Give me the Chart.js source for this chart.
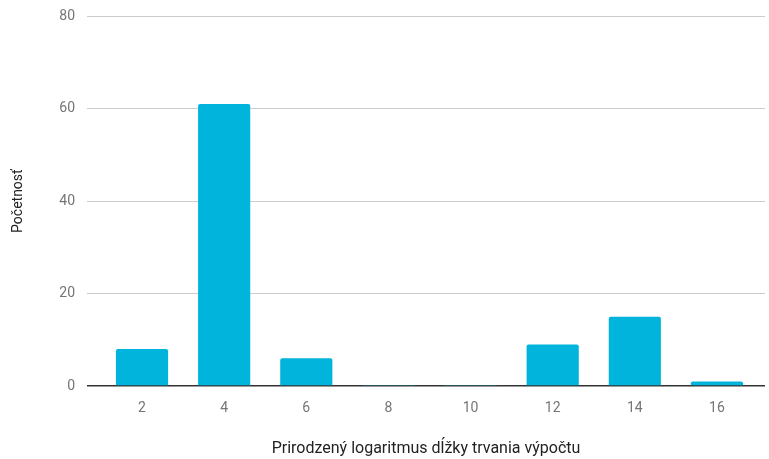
<!DOCTYPE html>
<html>
<head>
<meta charset="utf-8">
<script src="https://cdn.jsdelivr.net/npm/chart.js@4/dist/chart.umd.min.js"></script>
<style>
  html, body { margin: 0; padding: 0; background: #fff; }
  #wrap { width: 769px; height: 459px; }
</style>
</head>
<body>
<div id="wrap"><canvas id="c"></canvas></div>
<script>
// bin centres (natural log of run time) and counts per bin
const bins = [2, 4, 6, 8, 10, 12, 14, 16];
const counts = [8, 61, 6, 0, 0, 9, 15, 1];
const yTicks = [0, 20, 40, 60, 80];
const xTicks = [2, 4, 6, 8, 10, 12, 14, 16];

const BAR = '#00b4db';

new Chart(document.getElementById('c'), {
  type: 'bar',
  data: {
    datasets: [{
      data: bins.map((b, i) => ({ x: b, y: counts[i] })),
      backgroundColor: BAR,
      borderRadius: 2,
      borderSkipped: 'bottom',
      barPercentage: 0.635,
      categoryPercentage: 1,
      minBarLength: 1
    }]
  },
  options: {
    responsive: true,
    maintainAspectRatio: false,
    animation: false,
    layout: { padding: { top: 16, right: 4, left: 0, bottom: 0 } },
    plugins: { legend: { display: false }, tooltip: { enabled: false } },
    scales: {
      x: {
        type: 'linear',
        offset: false,
        min: 0.66,
        max: 17.17,
        afterBuildTicks: s => { s.ticks = xTicks.map(v => ({ value: v })); },
        afterFit: s => { s.height = 73; s.paddingLeft = 0; s.paddingRight = 0; },
        grid: { display: false, drawTicks: false },
        border: { display: false },
        ticks: { color: '#757575', font: { family: 'Roboto', size: 14 }, padding: 14 },
        title: {
          display: true,
          text: 'Prirodzený logaritmus dĺžky trvania výpočtu',
          color: '#222',
          font: { family: 'Roboto', size: 16 },
          padding: { top: 0, bottom: 0 }
        }
      },
      y: {
        min: 0,
        max: 80,
        afterBuildTicks: s => { s.ticks = yTicks.map(v => ({ value: v })); },
        afterFit: s => { s.width = 87; s.paddingTop = 0; s.paddingBottom = 0; },
        grid: {
          drawTicks: false,
          color: ctx => ctx.tick && ctx.tick.value === 0 ? '#333' : '#cccccc',
          lineWidth: ctx => ctx.tick && ctx.tick.value === 0 ? 1.5 : 1
        },
        border: { display: false },
        ticks: { color: '#757575', font: { family: 'Roboto', size: 14 }, padding: 12 },
        title: {
          display: true,
          text: 'Početnosť',
          color: '#222',
          font: { family: 'Roboto', size: 14 },
          padding: { top: 10, bottom: 0 }
        }
      }
    }
  }
});
</script>
</body>
</html>
